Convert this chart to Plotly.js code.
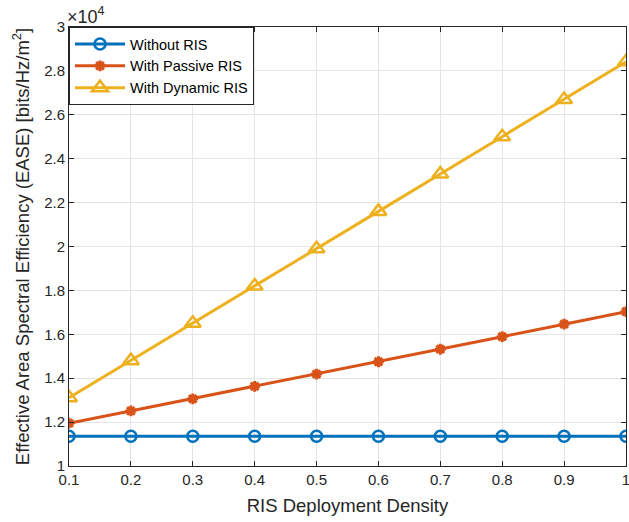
<!DOCTYPE html>
<html>
<head>
<meta charset="utf-8">
<script src="https://cdn.plot.ly/plotly-3.0.1.min.js"></script>
<style>html,body{margin:0;padding:0;background:#fff;}#chart{width:629px;height:522px;}</style>
</head>
<body>
<div id="chart"></div>
<script>
const density = [0.1, 0.2, 0.3, 0.4, 0.5, 0.6, 0.7, 0.8, 0.9, 1.0];
const withoutRIS = [11360, 11360, 11360, 11360, 11360, 11360, 11360, 11360, 11360, 11360];
const passiveRIS = [11950, 12510, 13060, 13630, 14190, 14750, 15320, 15890, 16460, 17030];
const dynamicRIS = [13110, 14800, 16500, 18200, 19900, 21600, 23300, 25000, 26700, 28420];
const xTickVals = [0.1, 0.2, 0.3, 0.4, 0.5, 0.6, 0.7, 0.8, 0.9, 1];
const xTickText = ['0.1', '0.2', '0.3', '0.4', '0.5', '0.6', '0.7', '0.8', '0.9', '1'];
const yTickVals = [10000, 12000, 14000, 16000, 18000, 20000, 22000, 24000, 26000, 28000, 30000];
const yTickText = ['1', '1.2', '1.4', '1.6', '1.8', '2', '2.2', '2.4', '2.6', '2.8', '3'];
const seriesNames = ['Without RIS', 'With Passive RIS', 'With Dynamic RIS'];

const font = 'Liberation Sans, Arial, Helvetica, sans-serif';
const dark = '#262626';

const traces = [
  {x: density, y: withoutRIS, name: seriesNames[0], mode: 'lines+markers',
   line: {color: '#0072BD', width: 3},
   marker: {symbol: 'circle-open', size: 11, color: '#0072BD', line: {width: 2.5, color: '#0072BD'}}},
  {x: density, y: passiveRIS, name: seriesNames[1], mode: 'lines+markers',
   line: {color: '#D95319', width: 3},
   marker: {symbol: 'asterisk-open', size: 9, color: '#D95319', line: {width: 3, color: '#D95319'}}},
  {x: density, y: dynamicRIS, name: seriesNames[2], mode: 'lines+markers',
   line: {color: '#EDB120', width: 3},
   marker: {symbol: 'triangle-up-open', size: 14, color: '#EDB120', line: {width: 2.5, color: '#EDB120'}}}
];

const layout = {
  width: 629, height: 522,
  margin: {l: 69, r: 3, t: 27, b: 56},
  paper_bgcolor: '#fff', plot_bgcolor: '#fff',
  font: {family: font, size: 14, color: dark},
  showlegend: true,
  legend: {x: 0, y: 1, xanchor: 'left', yanchor: 'top',
           bgcolor: '#fff', bordercolor: dark, borderwidth: 1, itemwidth: 50,
           font: {family: font, size: 14.5, color: '#000'}, tracegroupgap: 0},
  xaxis: {range: [0.1, 1], tickvals: xTickVals, ticktext: xTickText,
          showgrid: true, gridcolor: '#e5e5e5', gridwidth: 1, zeroline: false,
          showline: true, linecolor: dark, linewidth: 1, mirror: 'ticks',
          ticks: 'inside', ticklen: 5, tickcolor: dark, ticklabeloverflow: 'allow',
          tickfont: {family: font, size: 15, color: dark},
          title: {text: 'RIS Deployment Density', font: {family: font, size: 18.5, color: dark}, standoff: 12}},
  yaxis: {range: [10000, 30000], tickvals: yTickVals, ticktext: yTickText,
          showgrid: true, gridcolor: '#e5e5e5', gridwidth: 1, zeroline: false,
          showline: true, linecolor: dark, linewidth: 1, mirror: 'ticks',
          ticks: 'inside', ticklen: 5, tickcolor: dark, ticklabeloverflow: 'allow',
          tickfont: {family: font, size: 15, color: dark},
          title: {text: 'Effective Area Spectral Efficiency (EASE) [bits/Hz/m<sup>2</sup>]', font: {family: font, size: 18.5, color: dark}, standoff: 9}},
  annotations: [{xref: 'paper', yref: 'paper', x: 0, y: 1, xanchor: 'left', yanchor: 'bottom',
                 text: '×10<sup>4</sup>', showarrow: false, xshift: -4, yshift: -2,
                 font: {family: font, size: 18, color: dark}}]
};

Plotly.newPlot('chart', traces, layout, {displayModeBar: false, staticPlot: true});
</script>
</body>
</html>
